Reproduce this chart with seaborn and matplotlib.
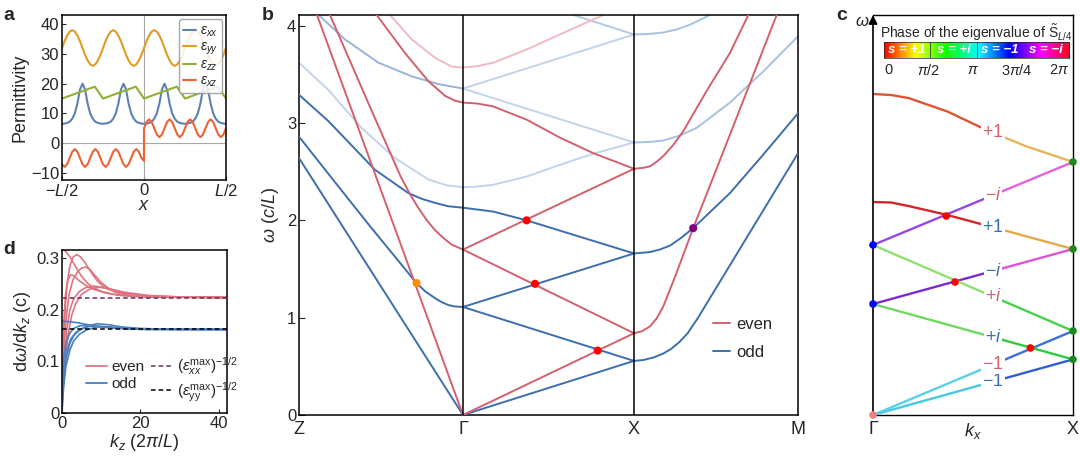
import numpy as np
import pandas as pd
import matplotlib
matplotlib.use("Agg")
import matplotlib.pyplot as plt
from matplotlib.lines import Line2D
import seaborn as sns

# ---------------- panel a: permittivity profiles
a_x = np.linspace(-0.5, 0.5, 65)
eps_xx = [6.5, 6.6, 6.8, 7.2, 8.2, 10.0, 13.3, 18.0, 20.0, 18.0, 13.3, 10.0, 8.2, 7.2, 6.8, 6.6,
          6.5, 6.6, 6.8, 7.2, 8.2, 10.0, 13.3, 18.0, 20.0, 18.0, 13.3, 10.0, 8.2, 7.2, 6.8, 6.6,
          6.5, 6.6, 6.8, 7.2, 8.2, 10.0, 13.3, 18.0, 20.0, 18.0, 13.3, 10.0, 8.2, 7.2, 6.8, 6.6,
          6.5, 6.6, 6.8, 7.2, 8.2, 10.0, 13.3, 18.0, 20.0, 18.0, 13.3, 10.0, 8.2, 7.2, 6.8, 6.6,
          6.5]
eps_yy = [32, 34.3, 36.2, 37.5, 38, 37.5, 36.2, 34.3, 32, 29.7, 27.8, 26.5, 26, 26.5, 27.8, 29.7,
          32, 34.3, 36.2, 37.5, 38, 37.5, 36.2, 34.3, 32, 29.7, 27.8, 26.5, 26, 26.5, 27.8, 29.7,
          32, 34.3, 36.2, 37.5, 38, 37.5, 36.2, 34.3, 32, 29.7, 27.8, 26.5, 26, 26.5, 27.8, 29.7,
          32, 34.3, 36.2, 37.5, 38, 37.5, 36.2, 34.3, 32, 29.7, 27.8, 26.5, 26, 26.5, 27.8, 29.7,
          32]
zz_x = [-0.5, -0.3, -0.25, -0.05, 0.0, 0.2, 0.25, 0.45, 0.5]
eps_zz = [15, 19, 15, 19, 15, 19, 15, 19, 15]
xz_x = np.concatenate([np.linspace(-0.5, 0, 33), np.linspace(0, 0.5, 33)])
eps_xz = [-7.1, -8, -7.1, -5, -2.9, -2, -2.9, -5, -7.1, -8, -7.1, -5, -2.9, -2, -2.9, -5,
          -7.1, -8, -7.1, -5, -2.9, -2, -2.9, -5, -7.1, -8, -7.1, -5, -2.9, -2, -2.9, -5, -6.0,
          5, 7.1, 8, 7.1, 5, 2.9, 2, 2.9, 5, 7.1, 8, 7.1, 5, 2.9, 2, 2.9,
          5, 7.1, 8, 7.1, 5, 2.9, 2, 2.9, 5, 7.1, 8, 7.1, 5, 2.9, 2, 2.9, 5]

# ---------------- panel b: bands along Z-Γ-X-M, (k, omega) pairs
k_ticks = [0.0, 1.0, 2.043, 3.043]
k_names = ["Z", "Γ", "X", "M"]
b_odd1 = [(0.0, 2.64), (1.0, 0.0), (2.043, 0.556), (2.10, 0.565), (2.16, 0.59), (2.22, 0.63),
          (2.27, 0.68), (2.32, 0.75), (2.37, 0.84), (2.43, 0.99), (3.043, 2.69)]
b_odd2 = [(0.0, 2.86), (0.23, 2.37), (0.433, 1.94), (0.717, 1.355), (0.77, 1.27), (0.83, 1.20),
          (0.87, 1.16), (0.91, 1.13), (0.95, 1.115), (1.0, 1.11), (2.043, 1.66), (2.14, 1.674),
          (2.20, 1.70), (2.262, 1.74), (2.33, 1.82), (2.404, 1.92), (2.628, 2.28), (2.831, 2.675),
          (3.043, 3.10)]
b_odd3 = [(0.0, 3.29), (0.179, 3.02), (0.463, 2.52), (0.667, 2.28), (0.75, 2.22), (0.829, 2.18),
          (0.91, 2.145), (1.0, 2.13), (1.185, 2.09), (1.388, 2.0), (2.043, 1.66)]
b_odd4 = [(1.0, 1.11), (2.043, 0.556)]
b_even1 = [(0.11, 4.11), (1.0, 0.0), (2.043, 0.84), (2.09, 0.86), (2.14, 0.91), (2.18, 0.99),
           (2.22, 1.11), (2.26, 1.28), (2.30, 1.45), (2.404, 1.92), (2.628, 2.88), (2.913, 4.11)]
b_even2 = [(0.189, 4.11), (0.45, 3.10), (0.62, 2.45), (0.68, 2.26), (0.727, 2.13), (0.78, 2.0),
           (0.829, 1.90), (0.88, 1.82), (0.931, 1.75), (1.0, 1.70), (2.043, 0.84)]
b_even3 = [(1.0, 1.70), (1.388, 2.009), (2.043, 2.53), (2.10, 2.54), (2.14, 2.555), (2.18, 2.60),
           (2.221, 2.66), (2.28, 2.77), (2.343, 2.915), (2.486, 3.33), (2.628, 3.72), (2.74, 4.11)]
b_even4 = [(0.474, 4.11), (0.646, 3.72), (0.789, 3.43), (0.89, 3.28), (0.95, 3.23), (1.0, 3.21),
           (1.09, 3.20), (1.185, 3.17), (1.388, 3.035), (1.591, 2.85), (1.795, 2.69), (2.043, 2.53)]
b_pink = [(0.555, 4.11), (0.687, 3.86), (0.829, 3.67), (0.931, 3.58), (1.0, 3.57), (1.09, 3.585),
          (1.185, 3.62), (1.388, 3.755), (1.591, 3.91), (1.856, 4.11)]
b_faint1 = [(0.0, 3.62), (0.179, 3.34), (0.382, 2.95), (0.585, 2.64), (0.789, 2.42), (0.9, 2.36),
            (1.0, 2.34), (1.09, 2.348), (1.185, 2.366), (1.388, 2.45), (1.591, 2.57),
            (1.795, 2.685), (2.043, 2.80)]
b_mid1 = [(0.12, 4.11), (0.28, 3.86), (0.484, 3.62), (0.687, 3.48), (0.85, 3.40), (1.0, 3.354)]
b_faint2 = [(1.0, 3.354), (2.043, 3.91)]
b_faint3 = [(1.0, 3.354), (2.043, 2.80)]
b_faint4 = [(1.673, 4.11), (2.043, 3.91)]
b_xm1 = [(2.043, 2.80), (2.13, 2.805), (2.221, 2.82), (2.32, 2.87), (2.425, 2.95), (2.628, 3.21),
         (2.831, 3.53), (3.043, 3.89)]
b_xm2 = [(2.043, 3.91), (2.13, 3.915), (2.221, 3.93), (2.30, 3.96), (2.384, 4.01), (2.506, 4.11)]
b_dot_orange = [(0.717, 1.355)]
b_dot_red = [(1.388, 2.0), (1.439, 1.348), (1.821, 0.662)]
b_dot_purple = [(2.404, 1.92)]

# ---------------- panel c: Γ-X bands coloured by symmetry eigenvalue
c_odd_m1 = [(0.0, 0.0), (0.6, 0.334), (1.0, 0.556)]
c_even_m1 = [(0.0, 0.0), (0.6, 0.504), (1.0, 0.84)]
c_odd_pi = [(0.0, 1.11), (0.6, 0.778), (1.0, 0.556)]
c_odd_mi = [(0.0, 1.11), (0.6, 1.44), (1.0, 1.66)]
c_even_pi = [(0.0, 1.70), (0.6, 1.184), (1.0, 0.84)]
c_even_mi = [(0.0, 1.70), (0.6, 2.198), (1.0, 2.53)]
c_odd_p1 = [(0.0, 2.13), (0.09, 2.125), (0.177, 2.09), (0.372, 2.0), (0.6, 1.877), (1.0, 1.66)]
c_even_p1 = [(0.0, 3.21), (0.09, 3.20), (0.177, 3.17), (0.372, 3.035), (0.567, 2.85), (0.6, 2.824),
             (0.762, 2.69), (1.0, 2.53)]
c_labels = ["$-1$", "$-1$", "$+i$", "$-i$", "$+i$", "$-i$", "$+1$", "$+1$"]
c_dot_gamma = [(0.0, 1.11), (0.0, 1.70)]
c_dot_x = [(1.0, 0.556), (1.0, 0.84), (1.0, 1.66), (1.0, 2.53)]
c_dot_cross = [(0.787, 0.67), (0.41, 1.33), (0.366, 1.99)]
phase_ticks = ["0", r"$\pi/2$", r"$\pi$", r"$3\pi/4$", r"$2\pi$"]
phase_names = ["s = +1", "s = +i", "s = \u22121", "s = \u2212i"]

# ---------------- panel d: group velocity vs k_z
d_even = [
    [(0, 0.318), (1, 0.313), (2, 0.303), (3, 0.29), (4, 0.277), (5, 0.265), (6.5, 0.252), (8, 0.243),
     (10, 0.236), (13, 0.23), (18, 0.226), (25, 0.2245), (42, 0.224)],
    [(0, 0.06), (0.4, 0.14), (0.8, 0.2), (1.3, 0.25), (2, 0.285), (2.8, 0.302), (3.7, 0.307),
     (4.7, 0.303), (6, 0.29), (7.5, 0.272), (9, 0.256), (11, 0.243), (14, 0.233), (18, 0.228),
     (25, 0.225), (42, 0.224)],
    [(0, 0.04), (0.5, 0.12), (1, 0.18), (1.8, 0.23), (2.8, 0.258), (4, 0.274), (5, 0.281), (6, 0.283),
     (7, 0.279), (8.5, 0.266), (10, 0.253), (12, 0.241), (15, 0.232), (20, 0.227), (28, 0.225),
     (42, 0.224)],
    [(0, 0.09), (0.4, 0.17), (0.9, 0.23), (1.5, 0.258), (2.2, 0.268), (3, 0.266), (4.5, 0.256),
     (6, 0.248), (8, 0.24), (11, 0.233), (15, 0.228), (22, 0.225), (42, 0.224)],
    [(0, 0.03), (0.6, 0.1), (1.2, 0.16), (2, 0.2), (3, 0.222), (4.5, 0.236), (6, 0.243), (8, 0.246),
     (10, 0.244), (13, 0.238), (17, 0.231), (22, 0.227), (30, 0.225), (42, 0.224)],
    [(0, 0.02), (0.7, 0.09), (1.5, 0.15), (2.5, 0.19), (3.5, 0.212), (5, 0.23), (7, 0.24),
     (9.5, 0.244), (12, 0.241), (16, 0.234), (22, 0.228), (30, 0.225), (42, 0.224)],
]
d_odd = [
    [(0, 0.178), (2, 0.177), (4, 0.175), (6, 0.172), (8, 0.169), (11, 0.166), (15, 0.164),
     (20, 0.163), (30, 0.162), (42, 0.162)],
    [(0, 0.01), (0.5, 0.07), (1, 0.105), (2, 0.135), (3, 0.15), (4.5, 0.161), (6.5, 0.169), (9, 0.173),
     (12, 0.171), (15, 0.167), (20, 0.164), (28, 0.162), (42, 0.162)],
    [(0, 0.0), (0.4, 0.05), (1, 0.09), (2, 0.122), (3, 0.14), (4.5, 0.153), (6.5, 0.162), (9, 0.167),
     (12, 0.167), (16, 0.164), (22, 0.162), (42, 0.162)],
    [(0, 0.03), (0.6, 0.09), (1.2, 0.12), (2.2, 0.143), (3.5, 0.156), (5, 0.163), (7, 0.168),
     (10, 0.168), (14, 0.165), (20, 0.163), (42, 0.162)],
    [(0, 0.06), (0.5, 0.11), (1, 0.135), (2, 0.155), (3, 0.164), (4.5, 0.169), (6.5, 0.17),
     (9, 0.168), (13, 0.165), (20, 0.162), (42, 0.162)],
]
d_lim_even = 0.2236
d_lim_odd = 0.1622

# ---------------- style
sns.set_style("ticks")
plt.rcParams["font.family"] = ["Liberation Sans", "DejaVu Sans"]
plt.rcParams["mathtext.fontset"] = "custom"
plt.rcParams["mathtext.rm"] = "Liberation Sans"
plt.rcParams["mathtext.it"] = "Liberation Sans:italic"
plt.rcParams["mathtext.bf"] = "Liberation Sans:bold"
plt.rcParams["xtick.direction"] = "in"
plt.rcParams["ytick.direction"] = "in"

EVEN = "#d3606d"
ODD = "#3d6eae"


def curve(ax, pts, color, lw=1.4, **kw):
    df = pd.DataFrame(pts, columns=["k", "w"])
    sns.lineplot(data=df, x="k", y="w", sort=False, estimator=None,
                 color=color, lw=lw, ax=ax, **kw)


def dots(ax, pts, color, s=34):
    df = pd.DataFrame(pts, columns=["k", "w"])
    sns.scatterplot(data=df, x="k", y="w", color=color, s=s, edgecolor="none",
                    ax=ax, zorder=6, clip_on=False)


def frame(ax, lw=1.1):
    for sp in ax.spines.values():
        sp.set_visible(True)
        sp.set_linewidth(lw)
        sp.set_color("black")


fig = plt.figure(figsize=(10.8, 4.59), dpi=100)
W, H = 1080, 459
ax_a = fig.add_axes([62 / W, 1 - 180 / H, 164 / W, 165 / H])
ax_d = fig.add_axes([62 / W, 1 - 413 / H, 165 / W, 163 / H])
ax_b = fig.add_axes([299 / W, 1 - 415 / H, 499 / W, 400 / H])
ax_c = fig.add_axes([873 / W, 1 - 415 / H, 200 / W, 400 / H])

# ---------------- a
ax_a.axhline(0, color="#a8a8a8", lw=0.8, zorder=1)
ax_a.axvline(0, color="#a8a8a8", lw=0.8, zorder=1)
pa = pd.DataFrame({"x": a_x, "xx": eps_xx, "yy": eps_yy})
sns.lineplot(data=pa, x="x", y="xx", color="#5e81b5", lw=1.5, ax=ax_a, label=r"$\varepsilon_{xx}$")
sns.lineplot(data=pa, x="x", y="yy", color="#e19c24", lw=1.5, ax=ax_a, label=r"$\varepsilon_{yy}$")
sns.lineplot(x=zz_x, y=eps_zz, color="#8fb032", lw=1.5, ax=ax_a, label=r"$\varepsilon_{zz}$")
sns.lineplot(x=xz_x, y=eps_xz, sort=False, estimator=None, color="#eb6235", lw=1.5, ax=ax_a,
             label=r"$\varepsilon_{xz}$")
ax_a.set_xlim(-0.5, 0.5)
ax_a.set_ylim(-12.4, 43.1)
ax_a.set_xticks([-0.5, 0, 0.5])
ax_a.set_xticklabels([r"$-L/2$", "0", r"$L/2$"], fontsize=12)
ax_a.set_yticks([-10, 0, 10, 20, 30, 40])
ax_a.set_yticklabels(["\u221210", "0", "10", "20", "30", "40"], fontsize=12)
ax_a.set_xlabel("$x$", fontsize=13, labelpad=-1)
ax_a.set_ylabel("Permittivity", fontsize=13, labelpad=2)
ax_a.tick_params(length=3, pad=2)
ax_a.legend(loc="upper right", bbox_to_anchor=(0.995, 0.99), fontsize=10, handlelength=0.9,
            handletextpad=0.3, labelspacing=0.05, borderpad=0.3, framealpha=0.85,
            edgecolor="#999999", borderaxespad=0.2)
frame(ax_a)

# ---------------- b
for pts in (b_faint1, b_faint2, b_faint3):
    curve(ax_b, pts, "#c3d4ea", lw=1.4, zorder=2)
curve(ax_b, b_faint4, "#b3c9e4", lw=1.4, zorder=2)
for pts in (b_xm1, b_xm2):
    curve(ax_b, pts, "#a8c1e0", lw=1.4, zorder=2)
curve(ax_b, b_mid1, "#98b4d8", lw=1.4, zorder=2)
curve(ax_b, b_pink, "#f1bac3", lw=1.4, zorder=2)
for pts in (b_odd1, b_odd2, b_odd3, b_odd4):
    curve(ax_b, pts, ODD, lw=1.4, zorder=3)
for pts in (b_even1, b_even2, b_even3, b_even4):
    curve(ax_b, pts, EVEN, lw=1.4, zorder=3)
for k in k_ticks[1:3]:
    ax_b.axvline(k, color="black", lw=1.1, zorder=4)
dots(ax_b, b_dot_orange, "#ff8c00")
dots(ax_b, b_dot_red, "#ff0000")
dots(ax_b, b_dot_purple, "#800080")
ax_b.set_xlim(k_ticks[0], k_ticks[-1])
ax_b.set_ylim(0, 4.11)
ax_b.set_xticks(k_ticks)
ax_b.set_xticklabels(k_names, fontsize=13)
ax_b.tick_params(axis="x", length=0, pad=4)
ax_b.set_yticks([0, 1, 2, 3, 4])
ax_b.set_yticklabels(["0", "1", "2", "3", "4"], fontsize=12)
ax_b.tick_params(axis="y", length=4, pad=2)
ax_b.set_xlabel("")
ax_b.set_ylabel(r"$\omega$ ($c/L$)", fontsize=13, labelpad=4)
ax_b.legend([Line2D([0], [0], color=EVEN, lw=1.4), Line2D([0], [0], color=ODD, lw=1.4)],
            ["even", "odd"], loc="lower left", bbox_to_anchor=(0.8, 0.1), frameon=False,
            fontsize=12, handlelength=1.0, handletextpad=0.4, labelspacing=0.8)
frame(ax_b)

# ---------------- c
c_lines = [c_odd_m1, c_even_m1, c_odd_pi, c_odd_mi, c_even_pi, c_even_mi, c_odd_p1, c_even_p1]
c_left = ["#48c8e0", "#58d0e8", "#70d860", "#7a2ad0", "#90e070", "#9448e0", "#d02828", "#dd5533"]
c_right = ["#2f5fd0", "#3a70d8", "#30c840", "#e050d8", "#48d048", "#e060e0", "#e8a848", "#e8b458"]
c_txt = [ODD, EVEN, ODD, ODD, EVEN, EVEN, ODD, EVEN]
for pts, cl, cr, lab, tc in zip(c_lines, c_left, c_right, c_labels, c_txt):
    curve(ax_c, [p for p in pts if p[0] <= 0.6], cl, lw=1.7, zorder=3)
    curve(ax_c, [p for p in pts if p[0] >= 0.6], cr, lw=1.7, zorder=3)
    ym = [p[1] for p in pts if p[0] == 0.6][0]
    ax_c.text(0.6, ym, lab, color=tc, fontsize=13, ha="center", va="center", zorder=4,
              bbox=dict(facecolor="white", edgecolor="none", pad=0.6))
dots(ax_c, [(0.0, 0.0)], "#f08080", s=30)
dots(ax_c, c_dot_gamma, "#0000ff", s=30)
dots(ax_c, c_dot_x, "#1e8a1e", s=30)
dots(ax_c, c_dot_cross, "#ff0000", s=30)
ax_c.set_xlim(0, 1)
ax_c.set_ylim(0, 4.0)
ax_c.set_xticks([0, 0.5, 1])
ax_c.set_xticklabels(["Γ", "$k_x$", "X"], fontsize=13)
ax_c.tick_params(axis="x", length=0, pad=4)
ax_c.set_yticks([])
ax_c.set_xlabel("")
ax_c.set_ylabel("")
frame(ax_c, lw=1.0)
ax_c.spines["left"].set_visible(False)
ax_c.annotate("", xy=(0, 1.0), xytext=(0, 0), xycoords="axes fraction",
              arrowprops=dict(arrowstyle="-|>", lw=1.2, color="black", mutation_scale=13,
                              shrinkA=0, shrinkB=0))
ax_c.text(-0.055, 0.985, r"$\omega$", transform=ax_c.transAxes, fontsize=12, ha="center", va="center")
ax_c.text(0.515, 0.955, r"Phase of the eigenvalue of $\tilde{\mathrm{S}}_{L/4}$",
          transform=ax_c.transAxes, fontsize=10, ha="center", va="center")
cb = ax_c.inset_axes([0.055, 0.893, 0.925, 0.039])
cb.imshow(np.linspace(0, 1, 256)[None, :], aspect="auto", cmap="hsv", extent=(0, 1, 0, 1))
for v in (0.25, 0.5, 0.75):
    cb.axvline(v, color="#404040", lw=0.6)
cb.set_xticks([])
cb.set_yticks([])
for sp in cb.spines.values():
    sp.set_linewidth(0.5)
for xc, t in zip((0.125, 0.375, 0.625, 0.875), phase_names):
    cb.text(xc, 0.48, t, color="white", fontweight="bold", fontstyle="italic", fontsize=9.5,
            ha="center", va="center")
for xf, t, ha in zip((0.055, 0.277, 0.5, 0.72, 0.98), phase_ticks,
                     ("left", "center", "center", "center", "right")):
    ax_c.text(xf, 0.862, t, transform=ax_c.transAxes, fontsize=10.5, ha=ha, va="center")

# ---------------- d
for pts in d_even:
    curve(ax_d, pts, "#e07480", lw=1.2, zorder=2)
for pts in d_odd:
    curve(ax_d, pts, "#4a7fc0", lw=1.2, zorder=2)
ax_d.axhline(d_lim_even, color="#6a2f5c", lw=1.1, ls=(0, (3, 2)), zorder=3)
ax_d.axhline(d_lim_odd, color="black", lw=1.1, ls=(0, (3, 2)), zorder=3)
ax_d.set_xlim(0, 42.1)
ax_d.set_ylim(0, 0.316)
ax_d.set_xticks([0, 20, 40])
ax_d.set_xticklabels(["0", "20", "40"], fontsize=12)
ax_d.set_yticks([0, 0.1, 0.2, 0.3])
ax_d.set_yticklabels(["0", "0.1", "0.2", "0.3"], fontsize=12)
ax_d.tick_params(length=3, pad=2)
ax_d.set_xlabel(r"$k_z$ (2$\pi$/$L$)", fontsize=13, labelpad=1)
ax_d.set_ylabel(r"d$\omega$/d$k_z$ (c)", fontsize=13, labelpad=2)
h = [Line2D([0], [0], color="#e07480", lw=1.3), Line2D([0], [0], color="#4a7fc0", lw=1.3),
     Line2D([0], [0], color="#6a2f5c", lw=1.1, ls=(0, (3, 2))),
     Line2D([0], [0], color="black", lw=1.1, ls=(0, (3, 2)))]
ax_d.legend(h, ["even", "odd", r"$(\varepsilon_{xx}^{\rm max})^{-1/2}$",
                r"$(\varepsilon_{\rm yy}^{\rm max})^{-1/2}$"],
            ncol=2, loc="lower left", bbox_to_anchor=(0.06, -0.03), frameon=False, fontsize=11,
            handlelength=1.4, handletextpad=0.3, columnspacing=0.4, labelspacing=0.2)
frame(ax_d)

# ---------------- panel letters
for lab, px, py in (("a", 3, 16), ("b", 262, 16), ("c", 836, 16), ("d", 3, 250)):
    fig.text(px / W, 1 - py / H, lab, fontsize=14, fontweight="bold", va="center")

fig.savefig("out.png", dpi=100)
